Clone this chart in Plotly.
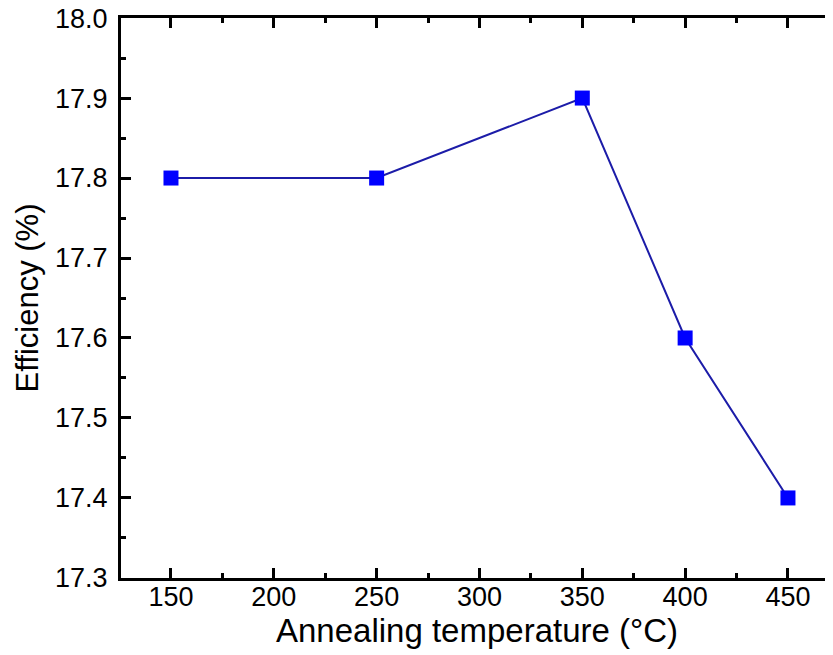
import plotly.graph_objects as go

temperature = [150, 250, 350, 400, 450]
efficiency = [17.8, 17.8, 17.9, 17.6, 17.4]
x_ticks = [150, 200, 250, 300, 350, 400, 450]
y_ticks = [17.3, 17.4, 17.5, 17.6, 17.7, 17.8, 17.9, 18.0]

font_family = "Liberation Sans, Arial, sans-serif"

fig = go.Figure()
fig.add_trace(go.Scatter(
    x=temperature, y=efficiency, mode="lines+markers",
    line=dict(color="#1c1ca8", width=2),
    marker=dict(symbol="square", size=15, color="#0000ff"),
    showlegend=False,
))
# invisible trace to anchor the right-hand tick axis
fig.add_trace(go.Scatter(x=[temperature[0]], y=[efficiency[0]], yaxis="y2",
                         mode="markers", marker=dict(opacity=0), showlegend=False,
                         hoverinfo="skip"))

y_range = [17.2999, 18.0001]

fig.update_layout(
    width=825, height=647,
    margin=dict(l=113, r=0, t=10, b=77),
    paper_bgcolor="white", plot_bgcolor="white",
    font=dict(family=font_family, color="black"),
    xaxis=dict(
        range=[125.7, 471.9], tickvals=x_ticks, ticktext=[str(v) for v in x_ticks],
        ticks="inside", ticklen=10, tickwidth=3, tickcolor="black",
        minor=dict(ticks="inside", ticklen=5, tickwidth=3, tickcolor="black", dtick=25, tick0=125),
        showline=True, linewidth=3, linecolor="black", mirror="ticks",
        showgrid=False, zeroline=False, automargin=False,
        tickfont=dict(size=27), ticklabelstandoff=-7,
        title=dict(text="Annealing temperature (°C)", font=dict(size=33), standoff=0),
    ),
    yaxis=dict(
        range=y_range, tickvals=y_ticks, ticktext=[f"{v:.1f}" for v in y_ticks],
        ticks="inside", ticklen=10, tickwidth=3, tickcolor="black",
        minor=dict(ticks="inside", ticklen=5, tickwidth=3, tickcolor="black", dtick=0.05, tick0=17.3),
        showline=True, linewidth=3, linecolor="black",
        showgrid=False, zeroline=False, automargin=False,
        tickfont=dict(size=27), ticklabelstandoff=5, ticklabeloverflow="allow",
        title=dict(text="Efficiency (%)", font=dict(size=31), standoff=8),
    ),
    yaxis2=dict(
        range=y_range, overlaying="y", side="right", anchor="x",
        tickvals=y_ticks, ticks="inside", ticklen=5, tickwidth=3, tickcolor="black",
        showticklabels=False, showline=False, showgrid=False, zeroline=False,
        automargin=False,
    ),
)

fig.write_html("out.html")
